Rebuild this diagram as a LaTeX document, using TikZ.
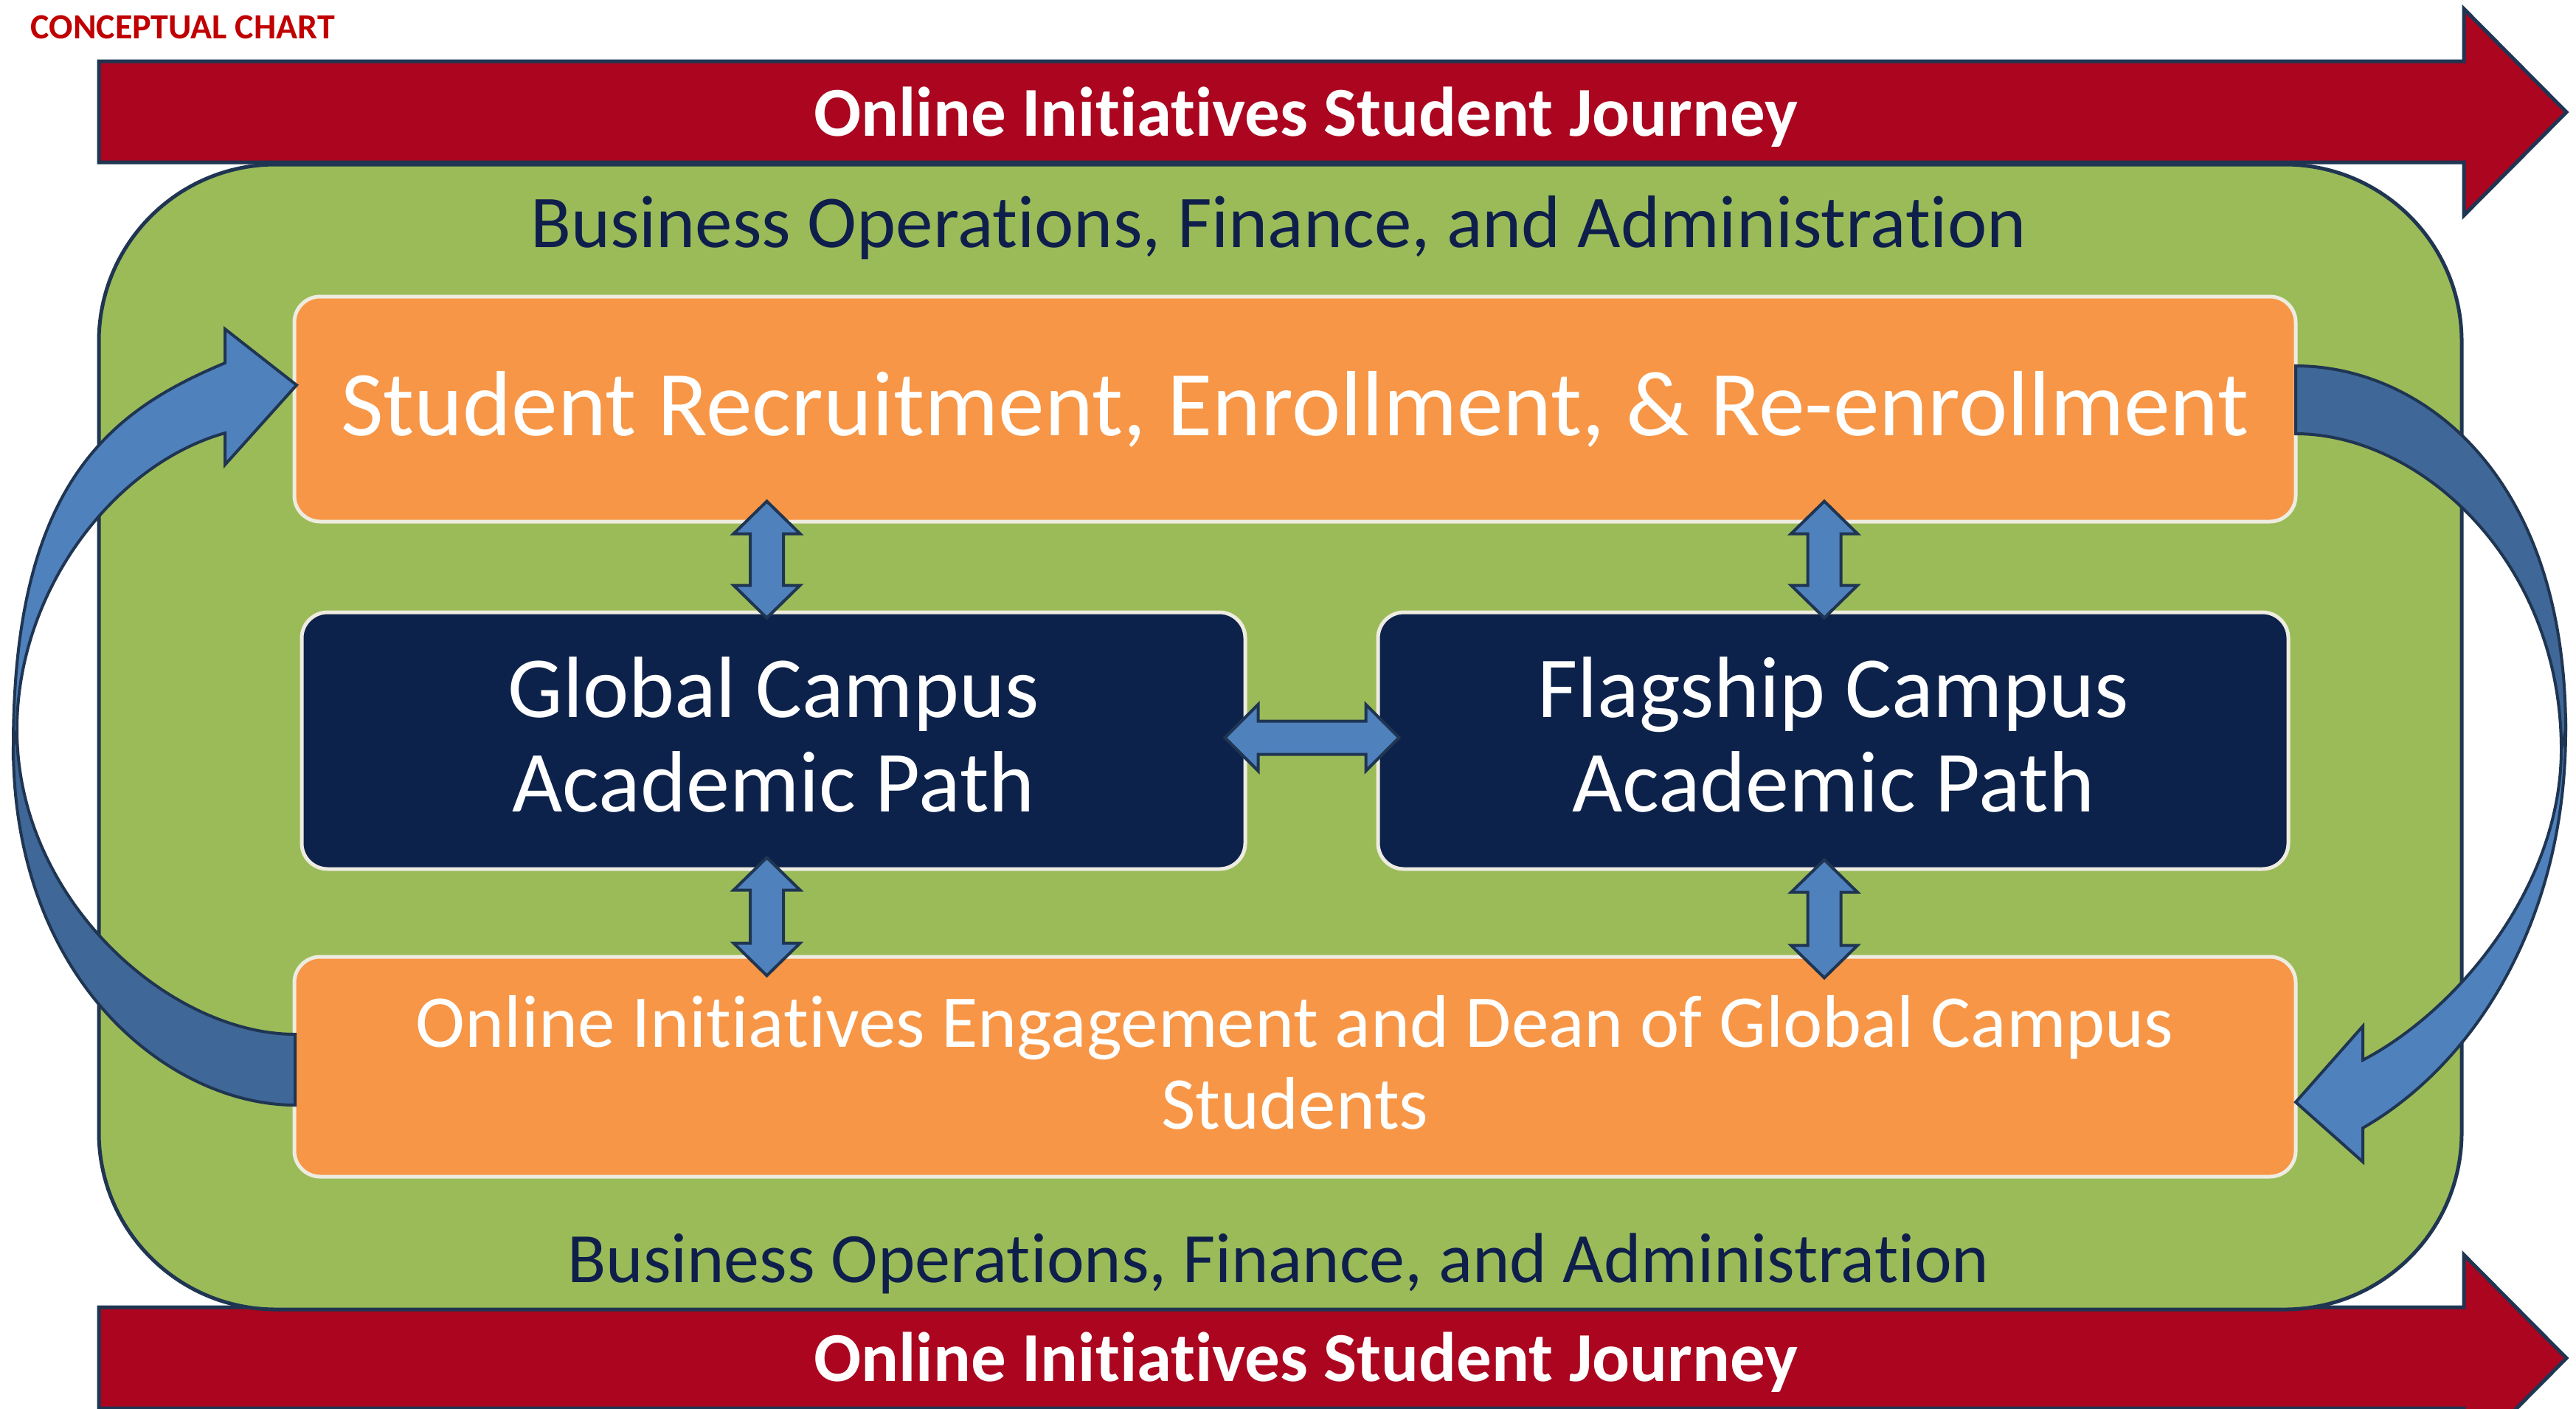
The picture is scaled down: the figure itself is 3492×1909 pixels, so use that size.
\documentclass[tikz,border=0pt]{standalone}
\usepackage{fontspec}
\setmainfont{Carlito}[Ligatures=NoCommon]
\usepackage{tikz}
\usetikzlibrary{calc}

\definecolor{journeyred}{HTML}{AB0520}
\definecolor{edgenavy}{HTML}{1F3552}
\definecolor{panelgreen}{HTML}{9BBB59}
\definecolor{boxorange}{HTML}{F79646}
\definecolor{boxcream}{HTML}{EEECE1}
\definecolor{pathnavy}{HTML}{0D224B}
\definecolor{textnavy}{HTML}{0F1F4B}
\definecolor{loopblue}{HTML}{4F81BD}
\definecolor{loopdark}{HTML}{3F6797}
\definecolor{chartred}{HTML}{C00000}

\tikzset{
    journey/.style={draw=edgenavy, line width=5pt, fill=journeyred, line join=miter},
    journeytext/.style={text=white, font=\fontsize{95}{104}\selectfont\bfseries, anchor=base},
    panel/.style={draw=edgenavy, line width=5pt, fill=panelgreen, rounded corners=240pt},
    opslabel/.style={text=textnavy, anchor=base},
    orangebox/.style={draw=boxcream, line width=5pt, fill=boxorange, rounded corners=35pt, text=white, align=center},
    pathbox/.style={draw=boxcream, line width=5pt, fill=pathnavy, rounded corners=35pt, text=white, align=center,
        font=\fontsize{118}{128}\selectfont},
    linkarrow/.style={draw=edgenavy, line width=4pt, fill=loopblue, line join=miter},
    loopfront/.style={draw=edgenavy, line width=4pt, fill=loopblue, line join=miter},
    loopback/.style={draw=edgenavy, line width=4pt, fill=loopdark, line join=miter}
}

% fat double arrows: #1 first tip, #2 second tip
\newcommand{\updown}[2]{%
    \draw[linkarrow] (#1) -- ($(#1)+(45,44)$) -- ($(#1)+(22.5,44)$) -- ($(#2)+(22.5,-44)$) -- ($(#2)+(45,-44)$)
        -- (#2) -- ($(#2)+(-45,-44)$) -- ($(#2)+(-22.5,-44)$) -- ($(#1)+(-22.5,44)$) -- ($(#1)+(-45,44)$) -- cycle;}
\newcommand{\leftright}[2]{%
    \draw[linkarrow] (#1) -- ($(#1)+(45,-45)$) -- ($(#1)+(45,-22.5)$) -- ($(#2)+(-45,-22.5)$) -- ($(#2)+(-45,-45)$)
        -- (#2) -- ($(#2)+(-45,45)$) -- ($(#2)+(-45,22.5)$) -- ($(#1)+(45,22.5)$) -- ($(#1)+(45,45)$) -- cycle;}
% two centred lines, nudged up or down
\newcommand{\twolines}[3]{\raisebox{#1}[\height][\depth]{\begin{tabular}{@{}c@{}}#2\\#3\end{tabular}}}

\begin{document}
\begin{tikzpicture}[x=1pt, y=-1pt]

    \useasboundingbox (0,0) rectangle (3492,1909);
    \clip (0,0) rectangle (3492,1909);

    \node[anchor=base west, text=chartred, font=\fontsize{48}{53}\selectfont\bfseries] (chart) at (38,52) {CONCEPTUAL CHART};

    % journey arrows
    \draw[journey] (134,83) -- (3340,83) -- (3340,12) -- (3479,152) -- (3340,292) -- (3340,220) -- (134,220) -- cycle;
    \draw[journey] (134,1772) -- (3340,1772) -- (3340,1701) -- (3479,1841) -- (3340,1981) -- (3340,1909) -- (134,1909) -- cycle;
    \node[journeytext] (journeyTop) at (1770,184) {Online Initiatives Student Journey};
    \node[journeytext] (journeyBot) at (1770,1872) {Online Initiatives Student Journey};

    % green panel
    \node[panel, minimum width=3203pt, minimum height=1552pt] (ops) at (1735.5,999) {};
    \node[opslabel, font=\fontsize{101}{111}\selectfont] (opsTop) at (1733,335) {Business Operations, Finance, and Administration};
    \node[opslabel, font=\fontsize{96}{106}\selectfont] (opsBot) at (1733,1738) {Business Operations, Finance, and Administration};

    % boxes
    \node[orangebox, minimum width=2713pt, minimum height=305pt, font=\fontsize{125.5}{138}\selectfont] (recruit) at (1755.5,554.5) {Student Recruitment, Enrollment, \& Re-enrollment};
    \node[pathbox, minimum width=1279pt, minimum height=348pt] (global) at (1048.5,1004) {\twolines{-7pt}{Global Campus}{Academic Path}};
    \node[pathbox, minimum width=1234pt, minimum height=348pt] (flagship) at (2485,1004) {\twolines{-7pt}{Flagship Campus}{Academic Path}};
    \node[orangebox, minimum width=2713pt, minimum height=298pt, font=\fontsize{101}{111}\selectfont] (engage) at (1755.5,1446) {\twolines{-7pt}{Online Initiatives Engagement and Dean of Global Campus}{Students}};

    % loop arrows
    \draw[loopfront] (3478,990) .. controls (3478,1250) and (3353,1443) .. (3203,1529) -- (3203,1575) -- (3112,1494)
        -- (3203,1391) -- (3203,1437) .. controls (3333,1369) and (3472,1200) .. (3472,1016) -- cycle;
    \draw[loopback] (3112,496) .. controls (3280,496) and (3478,640) .. (3478,990) -- (3472,1016)
        .. controls (3472,760) and (3280,588) .. (3112,588) -- cycle;
    \draw[loopback] (400,1498) .. controls (230,1498) and (18,1330) .. (18,1012) -- (23,989)
        .. controls (23,1220) and (230,1402) .. (400,1402) -- cycle;
    \draw[loopfront] (18,1012) .. controls (18,650) and (155,555) .. (305,492) -- (305,446) -- (402,522)
        -- (305,630) -- (305,587) .. controls (155,629) and (23,800) .. (23,989) -- cycle;

    % link arrows
    \coordinate (gA) at ($(recruit.south -| global.north)+(-9,-30)$);
    \coordinate (gB) at ($(global.north)+(-9,10)$);
    \coordinate (fA) at ($(recruit.south -| flagship.north)+(-12,-30)$);
    \coordinate (fB) at ($(flagship.north)+(-12,10)$);
    \coordinate (gC) at ($(global.south)+(-9,-18)$);
    \coordinate (gD) at ($(engage.north -| global.south)+(-9,28)$);
    \coordinate (fC) at ($(flagship.south)+(-12,-15)$);
    \coordinate (fD) at ($(engage.north -| flagship.south)+(-12,31)$);
    \coordinate (gE) at ($(global.east)+(-30,-4)$);
    \coordinate (fE) at ($(flagship.west)+(31,-4)$);
    \updown{gA}{gB}
    \updown{fA}{fB}
    \updown{gC}{gD}
    \updown{fC}{fD}
    \leftright{gE}{fE}

\end{tikzpicture}
\end{document}
